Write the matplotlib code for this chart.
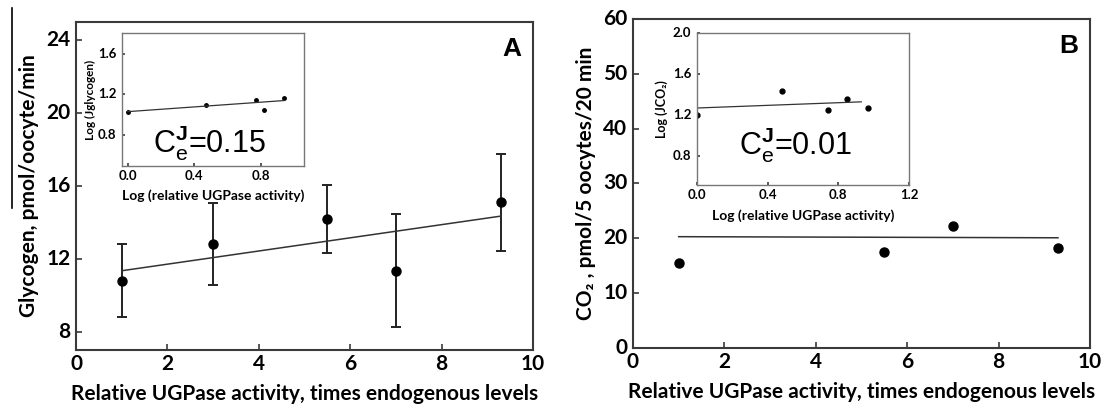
import matplotlib
matplotlib.use("Agg")
import matplotlib.pyplot as plt
from matplotlib.lines import Line2D

plt.rcParams["font.family"] = ["Lato", "DejaVu Sans"]
plt.rcParams["mathtext.fontset"] = "custom"
plt.rcParams["mathtext.rm"] = "Liberation Sans"
plt.rcParams["mathtext.bf"] = "Liberation Sans:bold"

# ---------------------------
# Data
# ---------------------------
ugp_x = [1, 3, 5.5, 7, 9.3]

glyc_y = [10.8, 12.8, 14.2, 11.35, 15.1]
glyc_err = [2.0, 2.25, 1.85, 3.1, 2.65]
glyc_fit_x = [1, 9.3]
glyc_fit_y = [11.35, 14.35]

co2_x = [1, 5.5, 7, 9.3]
co2_y = [15.5, 17.5, 22.3, 18.2]
co2_fit_x = [1, 9.3]
co2_fit_y = [20.3, 20.1]

# insets (log-log)
ins_a_x = [0.0, 0.47, 0.77, 0.82, 0.94]
ins_a_y = [1.03, 1.10, 1.15, 1.05, 1.17]
ins_a_fit_x = [0.0, 0.94]
ins_a_fit_y = [1.03, 1.14]

ins_b_x = [0.0, 0.48, 0.74, 0.85, 0.97]
ins_b_y = [1.20, 1.44, 1.25, 1.36, 1.27]
ins_b_fit_x = [0.0, 0.93]
ins_b_fit_y = [1.27, 1.33]

main_xticks = [0, 2, 4, 6, 8, 10]
glyc_yticks = [8, 12, 16, 20, 24]
co2_yticks = [0, 10, 20, 30, 40, 50, 60]
ins_a_xticks = ["0.0", "0.4", "0.8"]
ins_a_yticks = ["0.8", "1.2", "1.6"]
ins_b_xticks = ["0.0", "0.4", "0.8", "1.2"]
ins_b_yticks = ["0.8", "1.2", "1.6", "2.0"]

xlabel = "Relative UGPase activity, times endogenous levels"
ins_xlabel = "Log (relative UGPase activity)"

fig = plt.figure(figsize=(11.07, 4.13), dpi=100)
spine_c = "#3a3a3a"


def style_axes(ax, xt, yt, size, lw=1.5, tick_len=4):
    ax.set_xticks([float(t) for t in xt])
    ax.set_yticks([float(t) for t in yt])
    ax.set_xticklabels([])
    ax.set_yticklabels([])
    for s in ax.spines.values():
        s.set_color(spine_c)
        s.set_linewidth(lw)
    ax.tick_params(direction="in", length=tick_len, width=1.2, color=spine_c)
    # tick labels drawn as plain texts so the weight sticks
    for t in xt:
        ax.annotate(str(t), (float(t), 0), xycoords=("data", "axes fraction"),
                    xytext=(0, -3), textcoords="offset points", ha="center", va="top",
                    fontsize=size, fontweight="bold")
    for t in yt:
        ax.annotate(str(t), (0, float(t)), xycoords=("axes fraction", "data"),
                    xytext=(-4, 0), textcoords="offset points", ha="right", va="center",
                    fontsize=size, fontweight="bold")


# ---------------------------
# Panel A
# ---------------------------
axA = fig.add_axes([0.0687, 0.1525, 0.4128, 0.7942])
axA.errorbar(ugp_x, glyc_y, yerr=glyc_err, fmt="o", color="black", ms=6.5,
             ecolor="#222222", elinewidth=1.4, capsize=3.5, capthick=1.4)
axA.plot(glyc_fit_x, glyc_fit_y, color="#333333", lw=1.1)
axA.set_xlim(0, 10)
axA.set_ylim(7, 25)
style_axes(axA, main_xticks, glyc_yticks, 15)
axA.set_xlabel(xlabel, fontsize=15, fontweight="bold", labelpad=21)
axA.set_ylabel("Glycogen, pmol/oocyte/min", fontsize=15, fontweight="bold", labelpad=23)
axA.text(0.975, 0.955, "A", transform=axA.transAxes, ha="right", va="top",
         fontsize=19, fontweight="bold", family="Liberation Sans")

insA = fig.add_axes([0.1102, 0.598, 0.1644, 0.322])
insA.plot(ins_a_x, ins_a_y, "o", color="black", ms=2.5)
insA.plot(ins_a_fit_x, ins_a_fit_y, color="#333333", lw=0.9)
insA.set_xlim(-0.036, 1.06)
insA.set_ylim(0.49, 1.81)
style_axes(insA, ins_a_xticks, ins_a_yticks, 9.5, lw=1.0, tick_len=2.5)
for s in insA.spines.values():
    s.set_color("#777777")
insA.set_xlabel(ins_xlabel, fontsize=10, fontweight="bold", labelpad=13)
insA.set_ylabel("Log (Jglycogen)", fontsize=8.5, fontweight="bold", labelpad=15)
insA.text(0.17, 0.1, r"C$^{\mathbf{J}}_{\mathrm{e}}$=0.15", transform=insA.transAxes,
          fontsize=22, family="Liberation Sans")

# ---------------------------
# Panel B
# ---------------------------
axB = fig.add_axes([0.5718, 0.1574, 0.4128, 0.7966])
axB.plot(co2_x, co2_y, "o", color="black", ms=6.5)
axB.plot(co2_fit_x, co2_fit_y, color="#333333", lw=1.1)
axB.set_xlim(0, 10)
axB.set_ylim(0, 60)
style_axes(axB, main_xticks, co2_yticks, 15)
axB.set_xlabel(xlabel, fontsize=15, fontweight="bold", labelpad=21)
axB.set_ylabel("CO₂ , pmol/5 oocytes/20 min", fontsize=15, fontweight="bold", labelpad=23)
axB.text(0.975, 0.955, "B", transform=axB.transAxes, ha="right", va="top",
         fontsize=19, fontweight="bold", family="Liberation Sans")

insB = fig.add_axes([0.6296, 0.552, 0.1915, 0.368])
insB.plot(ins_b_x, ins_b_y, "o", color="black", ms=3.5)
insB.plot(ins_b_fit_x, ins_b_fit_y, color="#333333", lw=0.9)
insB.set_xlim(0, 1.2)
insB.set_ylim(0.52, 2.0)
style_axes(insB, ins_b_xticks, ins_b_yticks, 9.5, lw=1.0, tick_len=2.5)
for s in insB.spines.values():
    s.set_color("#777777")
insB.set_xlabel(ins_xlabel, fontsize=10, fontweight="bold", labelpad=14)
insB.set_ylabel("Log (JCO₂)", fontsize=9, fontweight="bold", labelpad=17)
insB.text(0.2, 0.2, r"C$^{\mathbf{J}}_{\mathrm{e}}$=0.01", transform=insB.transAxes,
          fontsize=22, family="Liberation Sans")

# stray vertical rule at the far left of the original figure
fig.add_artist(Line2D([0.0108, 0.0108], [0.496, 0.981], transform=fig.transFigure,
                      color="black", lw=1.2))

fig.savefig("out.png", dpi=100)
